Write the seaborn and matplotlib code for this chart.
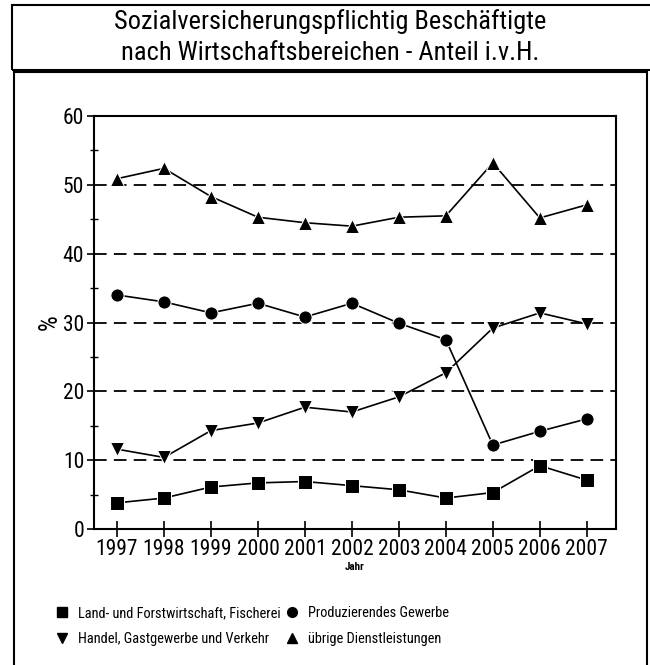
import pandas as pd
import numpy as np
import matplotlib.pyplot as plt
import seaborn as sns
from matplotlib.lines import Line2D
from matplotlib.patches import Rectangle

jahre = [1997, 1998, 1999, 2000, 2001, 2002, 2003, 2004, 2005, 2006, 2007]
land = [3.8, 4.5, 6.1, 6.7, 6.9, 6.3, 5.7, 4.5, 5.3, 9.2, 7.1]
produzierend = [34.0, 33.0, 31.4, 32.8, 30.8, 32.8, 29.9, 27.5, 12.2, 14.2, 16.0]
handel = [11.6, 10.4, 14.3, 15.4, 17.7, 17.0, 19.2, 22.7, 29.2, 31.4, 29.8]
dienst = [50.9, 52.4, 48.3, 45.3, 44.5, 44.0, 45.3, 45.5, 53.2, 45.2, 47.1]

namen = ["Land- und Forstwirtschaft, Fischerei", "Produzierendes Gewerbe",
         "Handel, Gastgewerbe und Verkehr", "übrige Dienstleistungen"]
marker = ["s", "o", "v", "^"]

df = pd.DataFrame({"Jahr": jahre * 4,
                   "Anteil": land + produzierend + handel + dienst,
                   "Bereich": sum([[n] * len(jahre) for n in namen], [])})

sns.set_style("white")
plt.rcParams["font.family"] = ["Roboto Condensed", "Liberation Sans Narrow", "DejaVu Sans"]
plt.rcParams["text.color"] = "black"
plt.rcParams["axes.labelcolor"] = "black"
plt.rcParams["xtick.color"] = "black"
plt.rcParams["ytick.color"] = "black"

fig = plt.figure(figsize=(6.5, 6.65), dpi=100)
ax = fig.add_axes([0.1446, 0.2045, 0.803, 0.621])

sns.lineplot(data=df, x="Jahr", y="Anteil", hue="Bereich", style="Bereich",
             palette=["black"] * 4, markers=dict(zip(namen, marker)),
             dashes=False, markersize=9.5, linewidth=1.2, ax=ax, legend=False)

ax.set_xlim(1996.51, 2007.62)
ax.set_ylim(0, 60)
ax.set_xticks(jahre)
ax.set_yticks(range(0, 61, 10))
ax.set_yticks(range(5, 60, 10), minor=True)
ax.tick_params(axis="x", direction="inout", length=11, width=1.2, labelsize=15.5, pad=2)
ax.tick_params(axis="y", which="major", direction="out", length=5, width=1.2, labelsize=15.5, pad=2)
ax.tick_params(axis="y", which="minor", direction="inout", length=6, width=1.0)
ax.tick_params(left=True, bottom=True, which="both")
for y in range(10, 60, 10):
    ax.axhline(y, color="black", linewidth=1.3, dashes=(7, 4), zorder=0)
for s in ax.spines.values():
    s.set_color("black")
    s.set_linewidth(1.5)
ax.set_ylabel("%", fontsize=18, labelpad=1)
ax.set_xlabel("Jahr", fontsize=8, fontweight="bold", labelpad=1)

# Rahmen
fig.add_artist(Rectangle((12 / 650, 1 - 70 / 665), 660 / 650, 65 / 665, transform=fig.transFigure,
                         fill=False, edgecolor="black", linewidth=1.5))
fig.add_artist(Rectangle((14 / 650, -0.05), 633 / 650, 1 - 72 / 665 + 0.05, transform=fig.transFigure,
                         fill=False, edgecolor="black", linewidth=1.5))

fig.text(0.508, 1 - 22 / 665, "Sozialversicherungspflichtig Beschäftigte", ha="center", va="center", fontsize=19)
fig.text(0.508, 1 - 53 / 665, "nach Wirtschaftsbereichen - Anteil i.v.H.", ha="center", va="center", fontsize=19)

handles = [Line2D([], [], marker=m, color="black", linestyle="none", markersize=7) for m in marker]
order = [0, 2, 1, 3]
fig.legend([handles[i] for i in order], [namen[i] for i in order], ncol=2, frameon=False,
           loc="center left", bbox_to_anchor=(42 / 650, 1 - 626 / 665), fontsize=10.4,
           handletextpad=0.6, columnspacing=0.3, labelspacing=0.8, handlelength=1.0)

fig.savefig("out.png", dpi=100, facecolor="white")
